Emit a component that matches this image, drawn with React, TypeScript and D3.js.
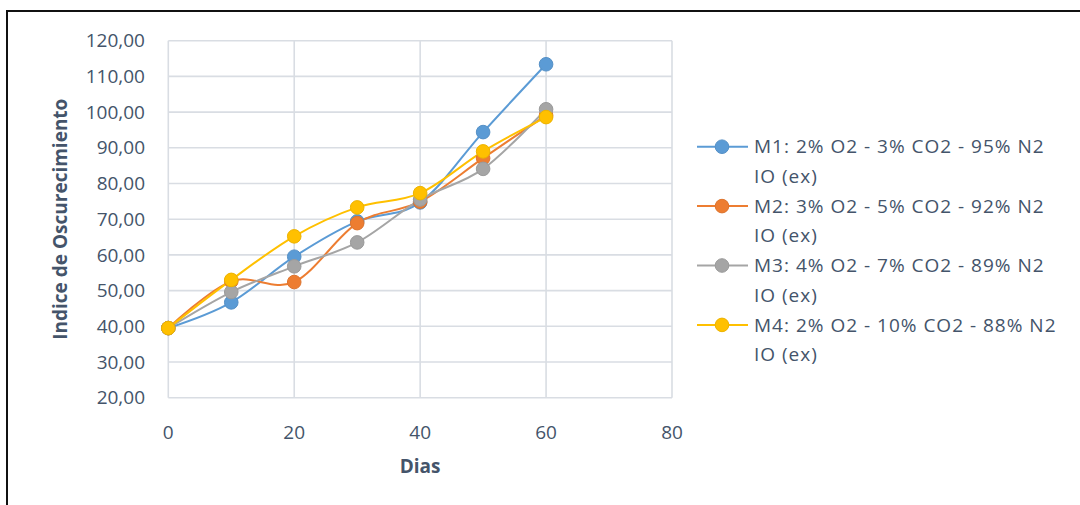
import React, { useEffect, useRef } from "react";
import * as d3 from "d3";

// Days of storage
const days = [0, 10, 20, 30, 40, 50, 60];

// Browning index per modified atmosphere
const m1Values = [39.5, 46.7, 59.5, 69.4, 74.7, 94.4, 113.4];
const m2Values = [39.5, 52.6, 52.4, 68.9, 74.9, 87.1, 99.1];
const m3Values = [39.5, 49.6, 56.8, 63.5, 75.5, 84.1, 100.8];
const m4Values = [39.5, 53.0, 65.2, 73.3, 77.3, 89.0, 98.6];

const seriesNames = [
  "M1: 2% O2 - 3% CO2 - 95% N2",
  "M2: 3% O2 - 5% CO2 - 92% N2",
  "M3: 4% O2 - 7% CO2 - 89% N2",
  "M4: 2% O2 - 10% CO2 - 88% N2",
];
const seriesSuffix = "IO (ex)";
const seriesColors = ["#5B9BD5", "#ED7D31", "#A5A5A5", "#FFC000"];

const xTicks = [0, 20, 40, 60, 80];
const yTicks = [20, 30, 40, 50, 60, 70, 80, 90, 100, 110, 120];

const xTitle = "Dias";
const yTitle = "Indice de Oscurecimiento";

const W = 1080;
const H = 505;
const FONT = "'Open Sans', 'Noto Sans', sans-serif";
const TEXT = "#44546A";
const FS = 19;

export default function App() {
  const ref = useRef<SVGSVGElement | null>(null);

  useEffect(() => {
    const svg = d3.select(ref.current);
    svg.selectAll("*").remove();

    const x = d3.scaleLinear().domain([0, 80]).range([168.3, 672]);
    const y = d3.scaleLinear().domain([20, 120]).range([397.7, 40.7]);

    // outer frame
    svg
      .append("rect")
      .attr("x", 7)
      .attr("y", 11)
      .attr("width", W + 20)
      .attr("height", H + 20)
      .attr("fill", "white")
      .attr("stroke", "#111")
      .attr("stroke-width", 2);

    const grid = svg.append("g");
    grid
      .selectAll("line.h")
      .data(yTicks)
      .join("line")
      .attr("x1", x(0))
      .attr("x2", x(80))
      .attr("y1", (d) => y(d))
      .attr("y2", (d) => y(d))
      .attr("stroke", "#D9DDE3")
      .attr("stroke-width", 1.6);
    grid
      .selectAll("line.v")
      .data(xTicks)
      .join("line")
      .attr("x1", (d) => x(d))
      .attr("x2", (d) => x(d))
      .attr("y1", y(120))
      .attr("y2", y(20))
      .attr("stroke", "#D9DDE3")
      .attr("stroke-width", 1.6);

    // axis labels
    svg
      .append("g")
      .selectAll("text")
      .data(yTicks)
      .join("text")
      .attr("x", 145)
      .attr("y", (d) => y(d))
      .attr("dy", "0.35em")
      .attr("text-anchor", "end")
      .attr("font-family", FONT)
      .attr("font-size", FS)
      .attr("fill", TEXT)
      .text((d) => d3.format(".2f")(d).replace(".", ","));

    svg
      .append("g")
      .selectAll("text")
      .data(xTicks)
      .join("text")
      .attr("x", (d) => x(d))
      .attr("y", 432)
      .attr("dy", "0.35em")
      .attr("text-anchor", "middle")
      .attr("font-family", FONT)
      .attr("font-size", FS)
      .attr("fill", TEXT)
      .text((d) => String(d));

    svg
      .append("text")
      .attr("x", x(40))
      .attr("y", 466)
      .attr("dy", "0.35em")
      .attr("text-anchor", "middle")
      .attr("font-family", FONT)
      .attr("font-weight", "bold")
      .attr("font-size", FS)
      .attr("fill", TEXT)
      .text(xTitle);

    svg
      .append("text")
      .attr("transform", `translate(60,${y(70)}) rotate(-90)`)
      .attr("dy", "0.35em")
      .attr("text-anchor", "middle")
      .attr("font-family", FONT)
      .attr("font-weight", "bold")
      .attr("font-size", FS)
      .attr("fill", TEXT)
      .text(yTitle);

    const all = [m1Values, m2Values, m3Values, m4Values];
    const line = d3
      .line<number>()
      .x((_, i) => x(days[i]))
      .y((d) => y(d))
      .curve(d3.curveCardinal.tension(0));

    all.forEach((vals, si) => {
      svg
        .append("path")
        .attr("d", line(vals))
        .attr("fill", "none")
        .attr("stroke", seriesColors[si])
        .attr("stroke-width", 2);
    });
    all.forEach((vals, si) => {
      svg
        .append("g")
        .selectAll("circle")
        .data(vals)
        .join("circle")
        .attr("cx", (_, i) => x(days[i]))
        .attr("cy", (d) => y(d))
        .attr("r", 6.8)
        .attr("fill", seriesColors[si])
        .attr("stroke", d3.color(seriesColors[si])!.darker(0.2).toString())
        .attr("stroke-width", 1);
    });

    // legend
    const lg = svg.append("g");
    seriesNames.forEach((name, i) => {
      const yy = 146.7 + i * 59.4;
      lg.append("line")
        .attr("x1", 697)
        .attr("x2", 748)
        .attr("y1", yy)
        .attr("y2", yy)
        .attr("stroke", seriesColors[i])
        .attr("stroke-width", 2);
      lg.append("circle")
        .attr("cx", 722)
        .attr("cy", yy)
        .attr("r", 6.8)
        .attr("fill", seriesColors[i])
        .attr("stroke", d3.color(seriesColors[i])!.darker(0.2).toString())
        .attr("stroke-width", 1);
      lg.append("text")
        .attr("x", 754)
        .attr("y", yy)
        .attr("dy", "0.35em")
        .attr("font-family", FONT)
        .attr("font-size", FS)
        .attr("letter-spacing", 1)
        .attr("fill", TEXT)
        .text(name);
      lg.append("text")
        .attr("x", 754)
        .attr("y", yy + 29.7)
        .attr("dy", "0.35em")
        .attr("font-family", FONT)
        .attr("font-size", FS)
        .attr("letter-spacing", 1)
        .attr("fill", TEXT)
        .text(seriesSuffix);
    });
  }, []);

  return (
    <svg
      ref={ref}
      width={W}
      height={H}
      style={{ position: "absolute", left: 0, top: 0, background: "white" }}
    />
  );
}
